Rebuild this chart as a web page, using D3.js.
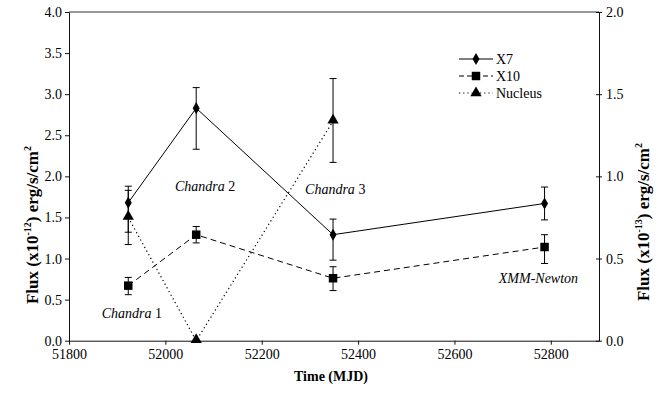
<!DOCTYPE html>
<html>
<head>
<meta charset="utf-8">
<script src="https://cdn.jsdelivr.net/npm/d3@7"></script>
<style>
  body { margin: 0; background: #fff; }
  svg text { font-family: "Liberation Serif", "Times New Roman", serif; fill: #000; }
</style>
</head>
<body>
<div id="chart"></div>
<script>
// observation dates (MJD)
const mjd = [51923, 52064, 52348, 52787];

// X7 flux (x1e-12), with error bar ends
const x7 = [1.68, 2.83, 1.29, 1.67];
const x7Lo = [1.32, 2.33, 0.98, 1.47];
const x7Hi = [1.88, 3.08, 1.48, 1.87];

// X10 flux (x1e-12)
const x10 = [0.67, 1.29, 0.76, 1.14];
const x10Lo = [0.56, 1.19, 0.61, 0.94];
const x10Hi = [0.77, 1.39, 0.90, 1.29];

// Nucleus flux (x1e-13, right axis)
const nucleus = [0.75, 0.0, 1.335];
const nucLo = [0.585, null, 1.085];
const nucHi = [0.915, null, 1.595];

const xTicks = [51800, 52000, 52200, 52400, 52600, 52800];
const yLeftTicks = [0, 0.5, 1, 1.5, 2, 2.5, 3, 3.5, 4];
const yRightTicks = [0, 0.5, 1, 1.5, 2];

const notes = [
  { mission: "Chandra", num: " 1", t: 51868, v: 0.28 },
  { mission: "Chandra", num: " 2", t: 52020, v: 1.82 },
  { mission: "Chandra", num: " 3", t: 52290, v: 1.78 },
  { mission: "XMM-Newton", num: "", t: 52692, v: 0.70 }
];

const width = 667, height = 393;
const plotL = 69, plotR = 599, plotT = 12, plotB = 340.7;

const svg = d3.select("#chart").append("svg")
  .attr("width", width)
  .attr("height", height);

const x = d3.scaleLinear().domain([51800, 52900]).range([plotL, plotR]);
const yL = d3.scaleLinear().domain([0, 4]).range([plotB, plotT]);
const yR = d3.scaleLinear().domain([0, 2]).range([plotB, plotT]);

// top border
svg.append("line")
  .attr("x1", plotL).attr("x2", plotR)
  .attr("y1", plotT).attr("y2", plotT)
  .attr("stroke", "#333").attr("stroke-width", 1);

// axes
const xAxis = svg.append("g")
  .attr("transform", `translate(0,${plotB})`)
  .call(d3.axisBottom(x).tickValues(xTicks).tickSize(4).tickSizeOuter(0).tickPadding(4).tickFormat(d3.format("d")));

const leftAxis = svg.append("g")
  .attr("transform", `translate(${plotL},0)`)
  .call(d3.axisLeft(yL).tickValues(yLeftTicks).tickSize(4).tickSizeOuter(0).tickPadding(3).tickFormat(d3.format(".1f")));

const rightAxis = svg.append("g")
  .attr("transform", `translate(${plotR},0)`)
  .call(d3.axisRight(yR).tickValues(yRightTicks).tickSize(3).tickSizeOuter(0).tickPadding(4).tickFormat(d3.format(".1f")));
rightAxis.selectAll(".tick line").attr("x1", -3);

[xAxis, leftAxis, rightAxis].forEach(g => {
  g.attr("font-family", null);
  g.selectAll("path, line").attr("stroke", "#111");
  g.selectAll("text").attr("font-size", 14);
});

// axis titles
svg.append("text")
  .attr("x", 331).attr("y", 381)
  .attr("text-anchor", "middle")
  .attr("font-size", 14).attr("font-weight", "bold")
  .text("Time (MJD)");

function fluxTitle(cx, cy, exp) {
  const t = svg.append("text")
    .attr("transform", `translate(${cx},${cy}) rotate(-90)`)
    .attr("text-anchor", "middle")
    .attr("font-size", 17).attr("font-weight", "bold");
  t.append("tspan").text("Flux (x10");
  t.append("tspan").attr("dy", -7).attr("font-size", 10).text(exp);
  t.append("tspan").attr("dy", 7).text(") erg/s/cm");
  t.append("tspan").attr("dy", -7).attr("font-size", 10).text("2");
}
fluxTitle(38, 225, "-12");
fluxTitle(649, 222, "-13");

// series lines
const lineL = d3.line().x(d => x(d[0])).y(d => yL(d[1]));
const lineR = d3.line().x(d => x(d[0])).y(d => yR(d[1]));

svg.append("path")
  .datum(mjd.map((t, i) => [t, x7[i]]))
  .attr("d", lineL).attr("fill", "none").attr("stroke", "#000").attr("stroke-width", 1);

svg.append("path")
  .datum(mjd.map((t, i) => [t, x10[i]]))
  .attr("d", lineL).attr("fill", "none").attr("stroke", "#000").attr("stroke-width", 1)
  .attr("stroke-dasharray", "6,4");

svg.append("path")
  .datum(nucleus.map((v, i) => [mjd[i], v]))
  .attr("d", lineR).attr("fill", "none").attr("stroke", "#000").attr("stroke-width", 1.2)
  .attr("stroke-dasharray", "1.2,3");

// error bars
function errorBars(los, his, yScale) {
  const data = los.map((lo, i) => ({ t: mjd[i], lo, hi: his[i] })).filter(d => d.lo !== null);
  const g = svg.append("g").attr("stroke", "#000").attr("stroke-width", 1);
  g.selectAll(".v").data(data).enter().append("line")
    .attr("x1", d => x(d.t)).attr("x2", d => x(d.t))
    .attr("y1", d => yScale(d.lo)).attr("y2", d => yScale(d.hi));
  ["lo", "hi"].forEach(k => {
    g.selectAll(".c" + k).data(data).enter().append("line")
      .attr("x1", d => x(d.t) - 3.5).attr("x2", d => x(d.t) + 3.5)
      .attr("y1", d => yScale(d[k])).attr("y2", d => yScale(d[k]));
  });
}
errorBars(x7Lo, x7Hi, yL);
errorBars(x10Lo, x10Hi, yL);
errorBars(nucLo, nucHi, yR);

// markers
const diamond = d3.symbol().type(d3.symbolDiamond).size(42);
const square = d3.symbol().type(d3.symbolSquare).size(72);
const triangle = d3.symbol().type(d3.symbolTriangle).size(55);

svg.selectAll(".x7pt").data(x7).enter().append("path")
  .attr("d", diamond)
  .attr("transform", (d, i) => `translate(${x(mjd[i])},${yL(d)})`)
  .attr("fill", "#000");

svg.selectAll(".x10pt").data(x10).enter().append("path")
  .attr("d", square)
  .attr("transform", (d, i) => `translate(${x(mjd[i])},${yL(d)})`)
  .attr("fill", "#000");

svg.selectAll(".nucpt").data(nucleus).enter().append("path")
  .attr("d", triangle)
  .attr("transform", (d, i) => `translate(${x(mjd[i])},${yR(d) - 1})`)
  .attr("fill", "#000");

// annotations
notes.forEach(n => {
  const t = svg.append("text")
    .attr("x", x(n.t)).attr("y", yL(n.v))
    .attr("font-size", 14);
  t.append("tspan").attr("font-style", "italic").text(n.mission);
  if (n.num) t.append("tspan").text(n.num);
});

// legend
const legend = [
  { name: "X7", dash: null, sym: diamond },
  { name: "X10", dash: "5,3", sym: square },
  { name: "Nucleus", dash: "1.2,3", sym: triangle }
];
const lg = svg.append("g").attr("transform", "translate(459,59)");
legend.forEach((d, i) => {
  const row = lg.append("g").attr("transform", `translate(0,${i * 17})`);
  row.append("line")
    .attr("x1", 0).attr("x2", 34).attr("y1", 0).attr("y2", 0)
    .attr("stroke", "#000").attr("stroke-width", 1.2)
    .attr("stroke-dasharray", d.dash);
  row.append("path").attr("d", d.sym).attr("transform", "translate(17,0)").attr("fill", "#000");
  row.append("text").attr("x", 37).attr("y", 5).attr("font-size", 14).text(d.name);
});
</script>
</body>
</html>
